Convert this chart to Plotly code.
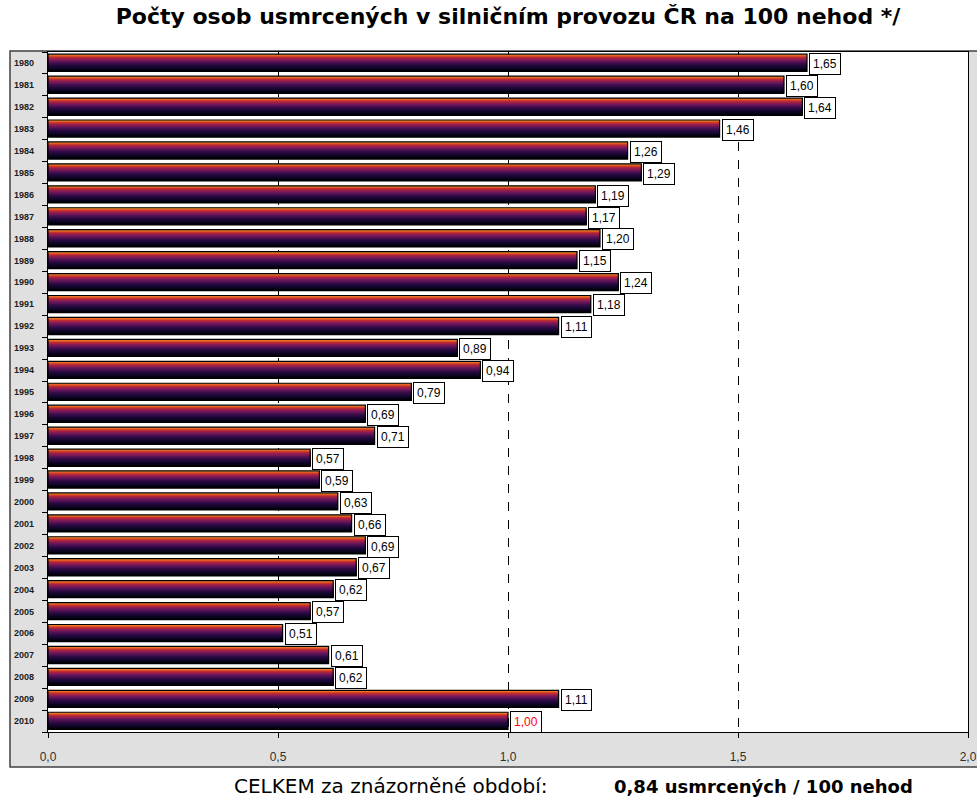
import plotly.graph_objects as go

# Fatalities per 100 road accidents, Czech Republic
years = list(range(1980, 2011))
rates = [1.65, 1.60, 1.64, 1.46, 1.26, 1.29, 1.19, 1.17, 1.20, 1.15,
         1.24, 1.18, 1.11, 0.89, 0.94, 0.79, 0.69, 0.71, 0.57, 0.59,
         0.63, 0.66, 0.69, 0.67, 0.62, 0.57, 0.51, 0.61, 0.62, 1.11,
         1.00]
value_labels = ["{:.2f}".format(v).replace(".", ",") for v in rates]
x_ticks = [0.0, 0.5, 1.0, 1.5, 2.0]
total_text = "CELKEM za znázorněné období:"
total_value = "0,84 usmrcených / 100 nehod"
title_text = "Počty osob usmrcených v silničním provozu ČR na 100 nehod */"

# vertical colour ramp of each bar, top edge to bottom edge
ramp = ["#f08a30", "#e05a24", "#c8302c", "#a82242", "#8c1c52", "#741858",
        "#5c1458", "#481050", "#360c48", "#280a40", "#1c0836", "#14062c",
        "#0c0422", "#060216", "#02010a"]

BAR_TOP = -0.40
BAR_H = 0.78

fig = go.Figure()
step = BAR_H / len(ramp)
for i, c in enumerate(ramp):
    fig.add_trace(go.Bar(
        x=rates, y=years, orientation="h",
        offset=BAR_TOP + i * step, width=BAR_H - i * step,
        marker=dict(color=c, line=dict(width=0)),
        hoverinfo="skip", showlegend=False,
    ))
# outline of each bar
fig.add_trace(go.Bar(
    x=rates, y=years, orientation="h",
    offset=BAR_TOP, width=BAR_H,
    marker=dict(color="rgba(0,0,0,0)", line=dict(color="#000000", width=1.2)),
    hovertemplate="%{y}: %{x:.2f}<extra></extra>", showlegend=False,
))

annotations = []
for y, v, t in zip(years, rates, value_labels):
    annotations.append(dict(
        x=v, y=y, xref="x", yref="y", text=t, showarrow=False,
        xanchor="left", yanchor="middle", xshift=2, yshift=-1,
        font=dict(family="Liberation Sans, Arial, sans-serif", size=12,
                  color="#ff0000" if y == 2010 else "#000000"),
        bgcolor="#ffffff", bordercolor="#000000", borderwidth=1, borderpad=3,
    ))

W, H = 977, 800
L, R, T, B = 48, 9, 52, 68
pw, ph = W - L - R, H - T - B


def px_x(px):
    return (px - L) / pw


def px_y(py):
    return (H - B - py) / ph


annotations.append(dict(
    x=px_x(232), y=px_y(786), xref="paper", yref="paper", text=total_text,
    showarrow=False, xanchor="left", yanchor="middle",
    font=dict(family="DejaVu Sans, sans-serif", size=20, color="#000000"),
))
annotations.append(dict(
    x=px_x(612), y=px_y(786), xref="paper", yref="paper", text="<b>" + total_value + "</b>",
    showarrow=False, xanchor="left", yanchor="middle",
    font=dict(family="DejaVu Sans, sans-serif", size=18, color="#000000"),
))

shapes = [
    # grey frame around plot area and axis labels
    dict(type="rect", xref="paper", yref="paper", layer="below",
         x0=px_x(10), x1=px_x(990), y0=px_y(767), y1=px_y(51),
         fillcolor="#e0e0e0", line=dict(color="#404040", width=1.5)),
    # white plotting area
    dict(type="rect", xref="paper", yref="paper", layer="below",
         x0=0, x1=1, y0=0, y1=1, fillcolor="#ffffff", line=dict(width=0)),
]

# tick marks sit on the boundaries between year bands
band_edges = [y - 0.5 for y in years] + [years[-1] + 0.5]

fig.update_layout(
    width=W, height=H,
    margin=dict(l=L, r=R, t=T, b=B, autoexpand=False),
    paper_bgcolor="#ffffff", plot_bgcolor="rgba(0,0,0,0)",
    barmode="overlay", separators=",.",
    title=dict(text="<b>" + title_text + "</b>", x=0.5, xanchor="center",
               xref="paper", y=1 - 16 / H, yanchor="middle",
               font=dict(family="DejaVu Sans, sans-serif", size=22, color="#000000")),
    shapes=shapes, annotations=annotations,
    xaxis=dict(range=[0, 2], tickvals=x_ticks, tickformat=".1f", automargin=False,
               showgrid=True, gridcolor="#000000", griddash="dash", gridwidth=1,
               showline=True, linecolor="#000000", linewidth=1.2, mirror=True,
               ticks="outside", ticklen=5, tickcolor="#000000",
               ticklabelstandoff=8,
               tickfont=dict(family="Liberation Sans, Arial, sans-serif", size=12, color="#303030"),
               zeroline=False, fixedrange=True),
    yaxis=dict(type="linear", range=[years[-1] + 0.5, years[0] - 0.5], automargin=False,
               tickvals=years, ticktext=[str(y) for y in years],
               showline=True, linecolor="#000000", linewidth=1.2, mirror=True,
               ticks="", ticklabelstandoff=11, showgrid=False, zeroline=False,
               minor=dict(tickvals=band_edges, ticks="outside", ticklen=5,
                          tickcolor="#000000", showgrid=False),
               tickfont=dict(family="Liberation Sans, Arial, sans-serif",
                             size=9, color="#202020", weight="bold"),
               fixedrange=True),
)

fig.write_html("out.html")
